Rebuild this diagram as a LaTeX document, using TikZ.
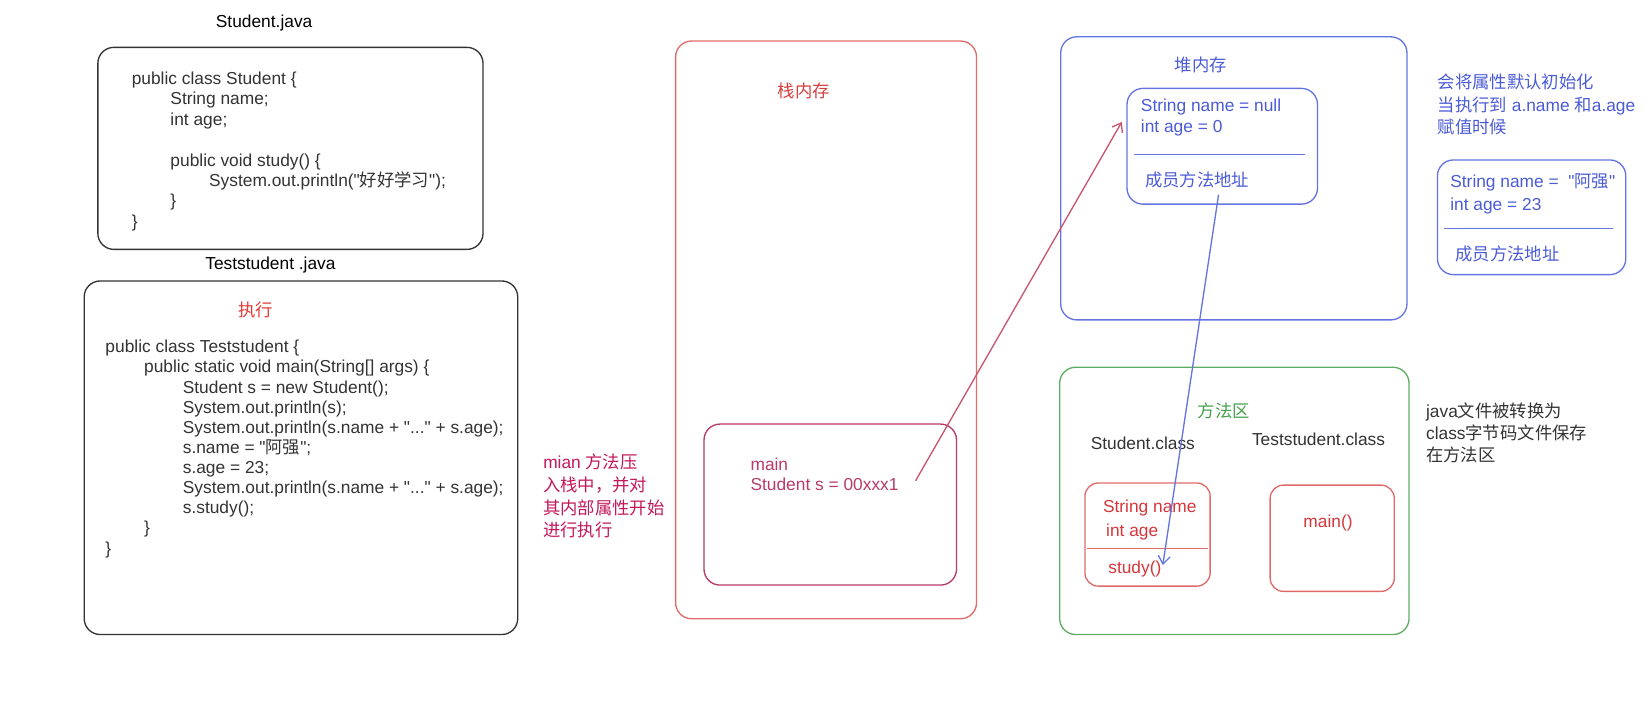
\documentclass[tikz,border=0pt]{standalone}
\usepackage{fontspec}
\setmainfont{Liberation Sans}[Ligatures=TeXOff]
\newfontfamily\cjk{Noto Sans CJK SC}
\usetikzlibrary{arrows.meta}

\definecolor{boxblack}{HTML}{333333}
\definecolor{stackred}{HTML}{E06C6C}
\definecolor{stacktxt}{HTML}{D63E3E}
\definecolor{mainred}{HTML}{B83A6A}
\definecolor{ptrred}{HTML}{C9566F}
\definecolor{notered}{HTML}{C2185B}
\definecolor{runred}{HTML}{E53935}
\definecolor{heapblue}{HTML}{6674E0}
\definecolor{heaptxt}{HTML}{4B5BD6}
\definecolor{areagreen}{HTML}{5DAE62}
\definecolor{areatxt}{HTML}{45A04C}
\definecolor{classred}{HTML}{E06A6A}
\definecolor{classtxt}{HTML}{D6353A}

\begin{document}
\begin{tikzpicture}[x=0.789pt,y=-0.789pt,
  txt/.style={inner sep=0pt,font=\fontsize{13}{15.3}\selectfont},
  code/.style={txt,align=left,anchor=north west},
  box/.style={draw=#1,line width=1pt,rounded corners=12pt},
  sep/.style={draw=#1,line width=1pt},
  ptr/.style={draw=#1,line width=1pt,-{Straight Barb[length=6pt,width=9pt]}}]
\def\tb{\hspace*{29pt}}
\useasboundingbox (0,0) rectangle (1568,683);

% 左侧：两个 java 源文件
\node[txt] (stujava) at (251,22) {Student.java};
\draw[box=boxblack] (93,45) rectangle (459,237);
\node[code,text=boxblack] (stucode) at (125,68) {public class Student \{\\
\tb String name;\\
\tb int age;\\[15.3pt]
\tb public void study() \{\\
\tb\tb System.out.println("{\cjk 好好学习}");\\
\tb \}\\
\}};

\node[txt] (testjava) at (257,252) {Teststudent .java};
\draw[box=boxblack] (80,267) rectangle (492,603);
\node[txt,text=runred] (run) at (243,295) {\cjk 执行};
\node[code,text=boxblack,font=\fontsize{13}{15.1}\selectfont] (testcode) at (100,323) {public class Teststudent \{\\
\tb public static void main(String[] args) \{\\
\tb\tb Student s = new Student();\\
\tb\tb System.out.println(s);\\
\tb\tb System.out.println(s.name + "..." + s.age);\\
\tb\tb s.name = "{\cjk 阿强}";\\
\tb\tb s.age = 23;\\
\tb\tb System.out.println(s.name + "..." + s.age);\\
\tb\tb s.study();\\
\tb \}\\
\}};

\node[code,text=notered,font=\fontsize{13}{17.1}\selectfont] (pushnote) at (516,431) {mian {\cjk 方法压}\\
{\cjk 入栈中，并对}\\
{\cjk 其内部属性开始}\\
{\cjk 进行执行}};

% 栈内存
\draw[box=stackred] (642,39) rectangle (928,588);
\node[txt,text=stacktxt] (stack) at (764,86) {\cjk 栈内存};
\draw[box=mainred] (669,403) rectangle (909,556);
\node[code,text=mainred,font=\fontsize{13}{15}\selectfont] (mainframe) at (713,435) {main\\
Student s = 00xxx1};

% 堆内存
\draw[box=heapblue] (1008,35) rectangle (1337,304);
\node[txt,text=heaptxt] (heap) at (1141,62) {\cjk 堆内存};
\draw[box=heapblue] (1071,84) rectangle (1252,194);
\node[code,text=heaptxt,font=\fontsize{13}{15.8}\selectfont] (objfield) at (1084,94) {String name = null\\
int age = 0};
\draw[sep=heapblue] (1078,147) -- (1240,147);
\node[txt,text=heaptxt,anchor=west] (objmeth) at (1088,171) {\cjk 成员方法地址};

\node[code,text=heaptxt,font=\fontsize{13}{17}\selectfont] (initnote) at (1366,70) {{\cjk 会将属性默认初始化}\\
{\cjk 当执行到} a.name {\cjk 和}a.age\\
{\cjk 赋值时候}};
\draw[box=heapblue] (1366,152) rectangle (1545,261);
\node[code,text=heaptxt,font=\fontsize{13}{17.4}\selectfont] (newfield) at (1378,165) {String name = \ "{\cjk 阿强}"\\
int age = 23};
\draw[sep=heapblue] (1372,217) -- (1533,217);
\node[txt,text=heaptxt,anchor=west] (newmeth) at (1383,241) {\cjk 成员方法地址};

% 方法区
\draw[box=areagreen] (1007,349) rectangle (1339,603);
\node[txt,text=areatxt] (area) at (1163,390) {\cjk 方法区};
\node[txt,text=boxblack] (stuclass) at (1086,421) {Student.class};
\node[txt,text=boxblack] (testclass) at (1253,417) {Teststudent.class};
\draw[box=classred,rounded corners=10pt] (1031,459) rectangle (1150,557);
\node[txt,text=classtxt,anchor=west] (cname) at (1048,483) {String name};
\node[txt,text=classtxt,anchor=west] (cage) at (1051,506) {int age};
\draw[sep=classred] (1033,521) -- (1148,521);
\node[txt,text=classtxt,anchor=west] (cstudy) at (1053,541) {study()};
\draw[box=classred,rounded corners=10pt] (1207,461) rectangle (1325,562);
\node[txt,text=classtxt] (cmain) at (1262,497) {main()};

\node[code,text=boxblack,font=\fontsize{13}{16.2}\selectfont] (classnote) at (1355,383) {java{\cjk 文件被转换为}\\
class{\cjk 字节码文件保存}\\
{\cjk 在方法区}};

% 引用箭头
\coordinate (sref) at (870,457);
\coordinate (objin) at (1066,116);
\draw[ptr=ptrred] (sref) -- (objin);
\coordinate (mref) at (1158,185);
\coordinate (studyin) at (1105,537);
\draw[ptr=heapblue] (mref) -- (studyin);
\end{tikzpicture}
\end{document}
